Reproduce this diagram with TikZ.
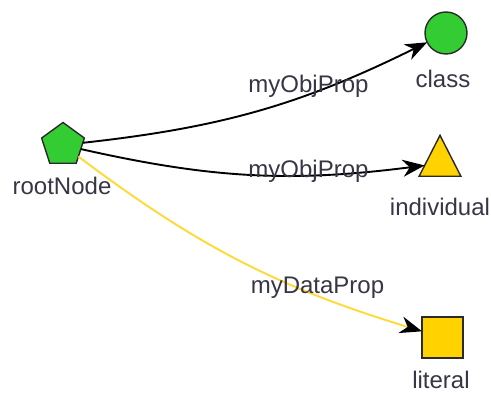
\documentclass[tikz,border=0pt]{standalone}
\usepackage{fontspec}
\setmainfont{Liberation Sans}
\usetikzlibrary{shapes.geometric,arrows.meta}

\definecolor{nodegreen}{HTML}{33CC33}
\definecolor{nodeyellow}{HTML}{FFD200}
\definecolor{datayellow}{HTML}{FFD935}
\definecolor{outline}{HTML}{2A2A2A}
\definecolor{labeltext}{HTML}{363645}

\tikzset{
  shapebase/.style={draw=outline, line width=1.4pt, inner sep=0pt, outer sep=0pt},
  rootshape/.style={shapebase, fill=nodegreen, regular polygon, regular polygon sides=5, minimum size=45pt},
  classshape/.style={shapebase, fill=nodegreen, circle, minimum size=42pt},
  indivshape/.style={shapebase, fill=nodeyellow, isosceles triangle, isosceles triangle apex angle=54,
    shape border rotate=90, minimum height=41pt},
  literalshape/.style={shapebase, fill=nodeyellow, rectangle, minimum size=41pt},
  lbl/.style={text=labeltext, font=\fontsize{24}{28}\selectfont, inner sep=0pt, anchor=base},
  tip/.style={-{Stealth[length=22pt, width=17pt, inset=7pt, black]}},
  objedge/.style={draw=black, line width=1.9pt, bend right=10, tip},
  dataedge/.style={draw=datayellow, line width=1.9pt, bend right=10, tip},
}

\begin{document}
\begin{tikzpicture}[x=1pt, y=1pt]
  \useasboundingbox (0,0) rectangle (491,394);

  % nodes
  \node[rootshape]    (root)  at (63,249)    {};
  \node[classshape]   (cls)   at (446,361)   {};
  \node[indivshape]   (ind)   at (440,230.5) {};
  \node[literalshape] (lit)   at (442.5,56.5) {};

  % node captions
  \node[lbl] (rootcap) at (62,199)  {rootNode};
  \node[lbl] (clscap)  at (443,306) {class};
  \node[lbl] (indcap)  at (440,178) {individual};
  \node[lbl] (litcap)  at (441,5)   {literal};

  % property edges
  \draw[objedge]  (root) to (cls);
  \draw[objedge]  (root) to (ind);
  \draw[dataedge] (root) to (lit);

  % edge captions
  \node[lbl] (p1) at (308.5,301) {myObjProp};
  \node[lbl] (p2) at (308.5,216) {myObjProp};
  \node[lbl] (p3) at (317.5,100) {myDataProp};
\end{tikzpicture}
\end{document}
